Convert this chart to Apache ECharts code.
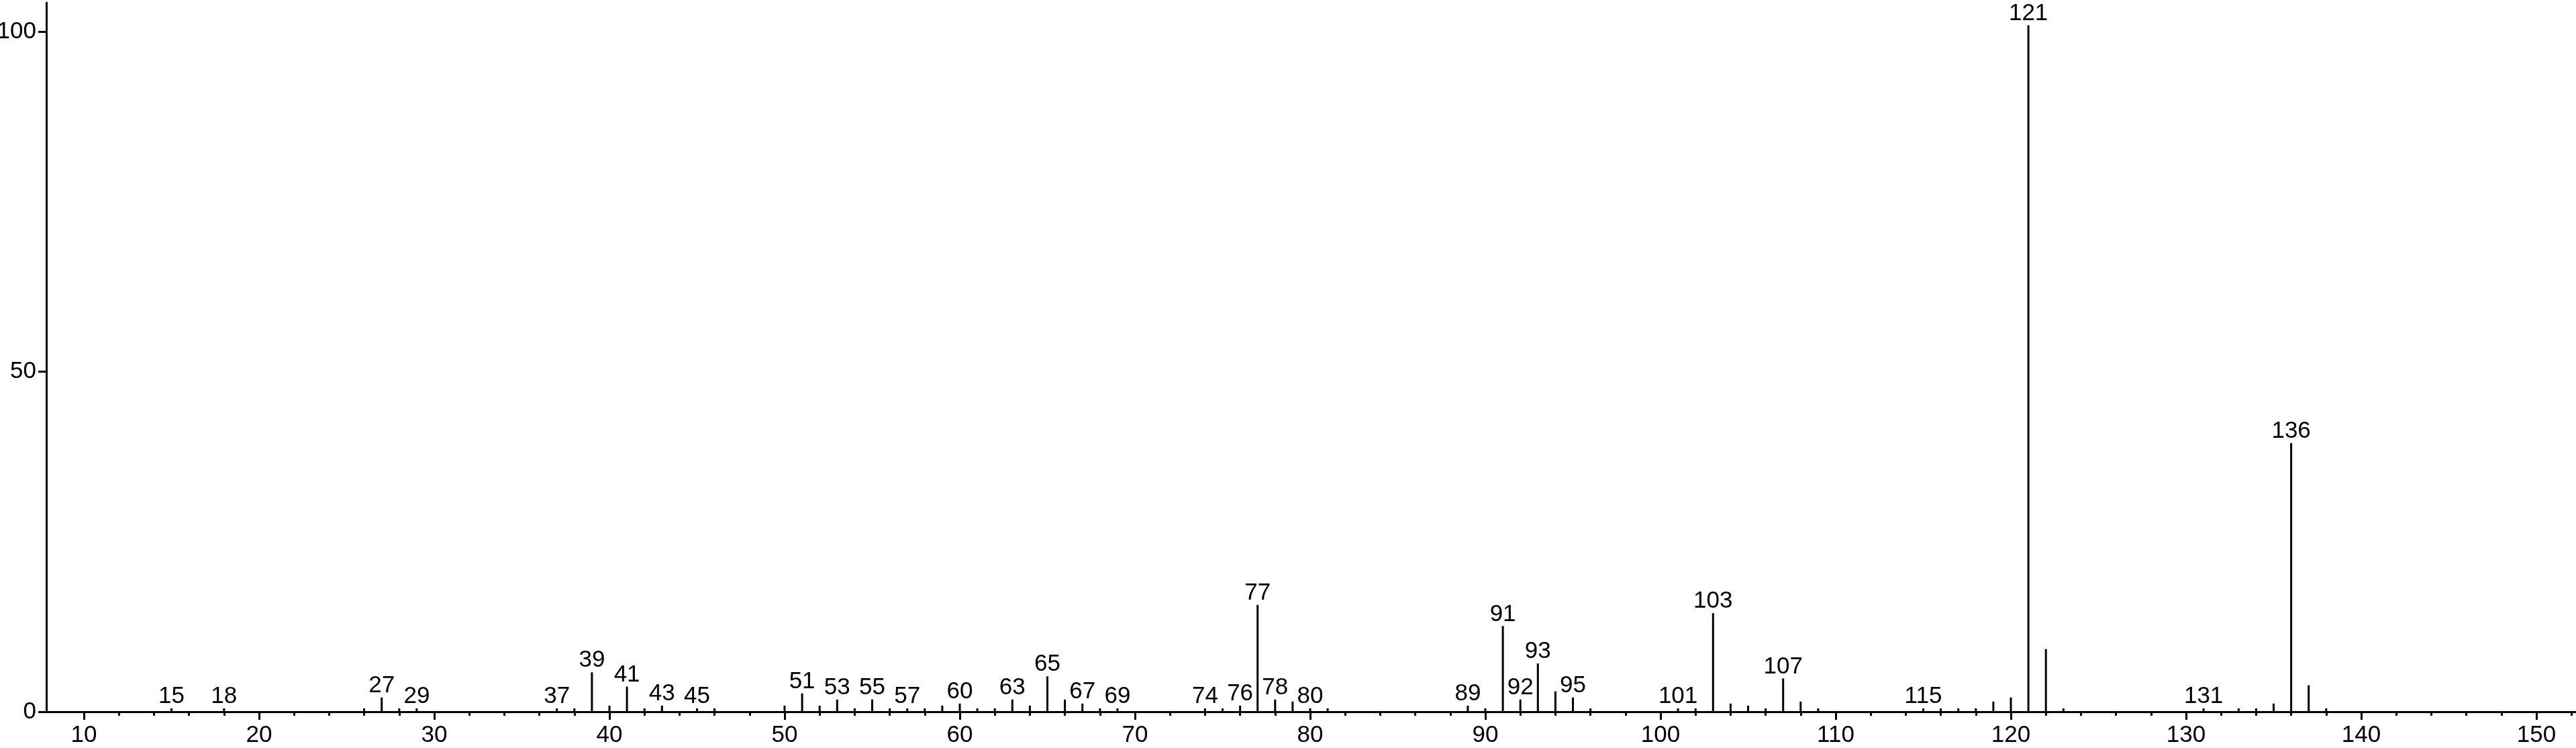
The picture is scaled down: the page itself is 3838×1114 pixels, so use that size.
<!DOCTYPE html>
<html>
<head>
<meta charset="utf-8">
<script src="https://cdn.jsdelivr.net/npm/echarts@6/dist/echarts.min.js"></script>
<style>
  html, body { margin: 0; padding: 0; background: #fff; }
  #chart { width: 3838px; height: 1114px; }
</style>
</head>
<body>
<div id="chart"></div>
<script>
// m/z values of the peaks
const mzValues = [15, 18, 26, 27, 28, 29, 37, 38, 39, 40, 41, 42, 43, 45, 46,
  50, 51, 52, 53, 54, 55, 56, 57, 58, 59, 60, 61, 62, 63, 64, 65, 66, 67, 68, 69,
  74, 75, 76, 77, 78, 79, 80, 81, 89, 90, 91, 92, 93, 94, 95, 96,
  101, 102, 103, 104, 105, 106, 107, 108, 109, 115, 116, 117, 118, 119, 120,
  121, 122, 123, 131, 133, 134, 135, 136, 137, 138];
// relative intensities (%)
const intensities = [0.5, 0.5, 0.5, 2.1, 0.5, 0.5, 0.5, 0.5, 5.8, 0.9, 3.7, 0.5, 0.9, 0.5, 0.5,
  0.9, 2.7, 0.9, 1.8, 0.5, 1.8, 0.5, 0.5, 0.5, 0.9, 1.2, 0.5, 0.5, 1.8, 0.9, 5.2, 1.8, 1.2, 0.5, 0.5,
  0.5, 0.5, 0.9, 15.7, 1.8, 1.5, 0.5, 0.5, 0.9, 0.5, 12.6, 1.8, 7.1, 3.0, 2.1, 0.5,
  0.5, 0.5, 14.5, 1.2, 0.9, 0.5, 4.9, 1.5, 0.5, 0.5, 0.5, 0.5, 0.5, 1.5, 2.1,
  100.9, 9.2, 0.5, 0.5, 0.5, 0.5, 1.2, 39.5, 3.9, 0.5];
// peaks that carry an m/z label
const labeledMz = [15, 18, 27, 29, 37, 39, 41, 43, 45, 51, 53, 55, 57, 60, 63, 65, 67, 69,
  74, 76, 77, 78, 80, 89, 91, 92, 93, 95, 101, 103, 107, 115, 121, 131, 136];
// axis ticks
const xMajorTicks = [10, 20, 30, 40, 50, 60, 70, 80, 90, 100, 110, 120, 130, 140, 150];
const xMinorTicks = [12, 14, 16, 18, 22, 24, 26, 28, 32, 34, 36, 38, 42, 44, 46, 48,
  52, 54, 56, 58, 62, 64, 66, 68, 72, 74, 76, 78, 82, 84, 86, 88, 92, 94, 96, 98,
  102, 104, 106, 108, 112, 114, 116, 118, 122, 124, 126, 128, 132, 134, 136, 138,
  142, 144, 146, 148, 152];
const yTicks = [0, 50, 100];

const FONT = '"Liberation Sans Narrow", "Liberation Sans", Arial, sans-serif';
const X_MIN = 7.855, X_MAX = 152.26, Y_MAX = 104.24;

const seriesData = mzValues.map((m, i) => ({
  value: [m, intensities[i]],
  label: { show: labeledMz.indexOf(m) >= 0 }
}));

const chart = echarts.init(document.getElementById('chart'), null, { renderer: 'canvas' });
chart.setOption({
  animation: false,
  backgroundColor: '#ffffff',
  grid: { left: 69, right: 0, top: 4, bottom: 54, containLabel: false, outerBoundsMode: 'none' },
  xAxis: [
    {
      type: 'value', min: X_MIN, max: X_MAX, position: 'bottom',
      splitLine: { show: false },
      axisLine: { show: true, lineStyle: { color: '#000', width: 3 } },
      axisTick: { show: true, customValues: xMajorTicks, length: 12, lineStyle: { color: '#000', width: 3 } },
      axisLabel: { customValues: xMajorTicks, fontSize: 35, fontFamily: FONT, color: '#000', margin: 18 }
    },
    {
      type: 'value', min: X_MIN, max: X_MAX, position: 'bottom',
      splitLine: { show: false },
      axisLine: { show: false },
      axisTick: { show: true, customValues: xMinorTicks, length: 6, lineStyle: { color: '#000', width: 3 } },
      axisLabel: { show: false }
    }
  ],
  yAxis: {
    type: 'value', min: 0, max: Y_MAX,
    splitLine: { show: false },
    axisLine: { show: true, lineStyle: { color: '#000', width: 3 } },
    axisTick: { show: true, customValues: yTicks, length: 12, lineStyle: { color: '#000', width: 3 } },
    axisLabel: { customValues: yTicks, fontSize: 35, fontFamily: FONT, color: '#000', margin: 15 }
  },
  series: [{
    type: 'bar',
    xAxisIndex: 0,
    barWidth: 3,
    itemStyle: { color: '#000' },
    label: {
      position: 'top', distance: 0,
      fontSize: 35, fontFamily: FONT, color: '#000',
      formatter: p => String(p.value[0])
    },
    labelLayout: { hideOverlap: false },
    data: seriesData
  }]
});
</script>
</body>
</html>
